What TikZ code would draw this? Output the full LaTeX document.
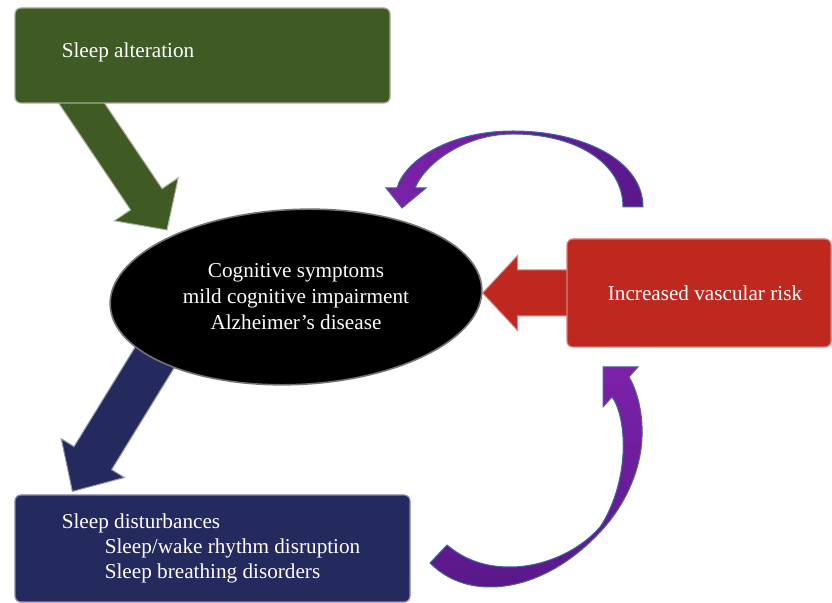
\documentclass[tikz,border=0pt]{standalone}
\usepackage{fontspec}
\setmainfont{Liberation Serif}
\usetikzlibrary{shapes,calc,backgrounds}

\definecolor{altgreen}{RGB}{63,90,35}
\definecolor{vascred}{RGB}{190,40,30}
\definecolor{distblue}{RGB}{36,42,94}
\definecolor{loopL}{RGB}{124,34,170}
\definecolor{loopD}{RGB}{90,24,138}
\definecolor{loopedge}{RGB}{62,104,160}

% block arrow: [style]{tail}{tip}{half shaft}{half head}{head length}
\newcommand{\blockarrow}[6][]{%
  \coordinate (ba-h) at ($(#3)!#6!(#2)$);
  \draw[#1] ($(#2)!#4!90:(#3)$) -- ($(ba-h)!#4!90:(#3)$) -- ($(ba-h)!#5!90:(#3)$)
    -- (#3) -- ($(ba-h)!#5!-90:(#3)$) -- ($(ba-h)!#4!-90:(#3)$)
    -- ($(#2)!#4!-90:(#3)$) -- cycle;
}

\begin{document}
\begin{tikzpicture}[x=0.5pt, y=-0.5pt,
    box/.style={rectangle, rounded corners=3pt, line width=0.6pt},
    boxtext/.style={text=white, align=left, anchor=west, inner sep=0pt,
                    font=\fontsize{10.6pt}{12.5pt}\selectfont},
    cog/.style={ellipse, fill=black, draw=black!55, line width=0.8pt,
                minimum width=186pt, minimum height=87.5pt, rotate=2.6},
    cogtext/.style={text=white, align=center, font=\fontsize{10.6pt}{13pt}\selectfont},
    barrow/.style={line width=0.5pt, line join=miter},
    loop/.style={draw=loopedge, line width=0.5pt}
]
    \useasboundingbox (0,0) rectangle (832,603);

    % Three boxes and the central ellipse
    \node[box, fill=altgreen, draw=altgreen!50!white, minimum width=187.5pt,
          minimum height=47.5pt] (alt) at (202.5,55.5) {};
    \node[boxtext] (altt) at ($(alt.west)+(47,-3)$) {Sleep alteration};
    \node[box, fill=vascred, draw=vascred!60!white, minimum width=132pt,
          minimum height=54pt] (vasc) at (699,293) {};
    \node[boxtext, anchor=center] (vasct) at ($(vasc.center)+(6,0)$) {Increased vascular risk};
    \node[box, fill=distblue, draw=distblue!55!white, minimum width=197.5pt,
          minimum height=53.5pt] (dist) at (212.5,548.5) {};
    \node[boxtext] (distt) at ($(dist.west)+(47,0)$)
          {Sleep disturbances\\\hspace*{21.5pt}Sleep/wake rhythm disruption\\\hspace*{21.5pt}Sleep breathing disorders};
    \node[cog] (cog) at (296,297) {};
    \node[cogtext] (cogt) at (cog.center) {Cognitive symptoms\\mild cognitive impairment\\Alzheimer's disease};

    % Block arrows behind the shapes
    \begin{pgfonlayer}{background}
    \coordinate (gtail) at ($(alt.south west)+(52,-23)$);
    \coordinate (gtip) at ($(cog.center)+(-129,-67)$);
    \blockarrow[barrow, fill=altgreen, draw=altgreen!45!white]{gtail}{gtip}{9.5pt}{19.25pt}{18.5pt}

    \coordinate (rtail) at ($(vasc.west)+(8,0)$);
    \coordinate (rtip) at (cog.east |- vasc.west);
    \blockarrow[barrow, fill=vascred, draw=vascred!55!white]{rtail}{rtip}{11.5pt}{18.75pt}{17.5pt}

    \coordinate (btail) at ($(cog.center)+(-130,42)$);
    \coordinate (btip) at ($(dist.north west)+(58,-3)$);
    \blockarrow[barrow, fill=distblue, draw=distblue!50!white]{btail}{btip}{11pt}{18.5pt}{19.5pt}
    \end{pgfonlayer}

    % Upper loop: vascular risk back to the ellipse
    \draw[loop, left color=loopL, right color=loopD]
        (643,207) .. controls (643,160) and (582,131) .. (513,131)
        .. controls (450,131) and (405,160) .. (397,188)
        -- (386,188) -- (402,208) -- (426,188) -- (415,188)
        .. controls (426,162) and (466,134) .. (513,134)
        .. controls (576,134) and (623,163) .. (623,207) -- cycle;

    % Lower loop: sleep disturbances up to vascular risk
    \draw[loop, top color=loopL, bottom color=loopD]
        (447,545) .. controls (465,560) and (485,567) .. (510,567)
        .. controls (545,567) and (580,550) .. (600,527)
        .. controls (615,505) and (625,470) .. (623,437)
        .. controls (622,420) and (618,405) .. (612,397)
        -- (603,407) -- (603,367) -- (638,367) -- (629,377)
        .. controls (638,392) and (643,415) .. (642,437)
        .. controls (641,470) and (625,505) .. (602,530)
        .. controls (570,565) and (530,587) .. (490,587)
        .. controls (465,587) and (445,578) .. (430,563) -- cycle;

\end{tikzpicture}
\end{document}
